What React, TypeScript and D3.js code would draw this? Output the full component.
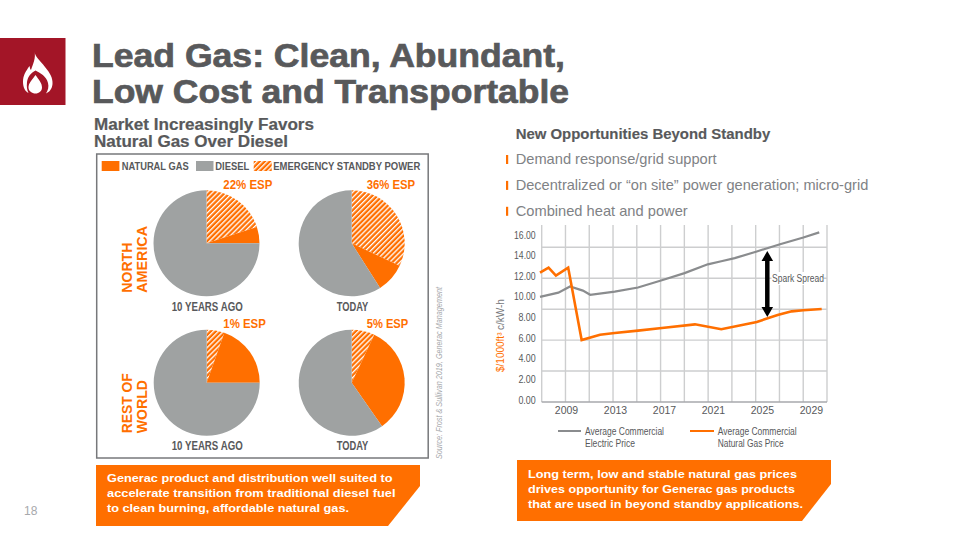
import React from "react";
import * as d3 from "d3";

const ORANGE = "#FF6F00", GREY = "#9FA2A2", TEXT = "#58595B", RED = "#A31527", LIGHT = "#808285";
const SANS = "'Liberation Sans', Arial, sans-serif";
const NARROW = "'Liberation Sans Narrow', 'Liberation Sans', sans-serif";

// pie data: [hatched ESP, natural gas, diesel]
const sliceKeys = ["esp", "gas", "diesel"];
const northAmericaPast = [20, 5, 75];
const northAmericaToday = [32, 9, 59];
const worldPast = [5.4, 19.6, 75];
const worldToday = [7, 33.3, 59.7];

// line chart data
const electricYears = [2007, 2008.5, 2009.45, 2010.5, 2011.1, 2013.1, 2015, 2016.95, 2018.8, 2020.7, 2021.8, 2022.9, 2024.7, 2026.6, 2028.5, 2029.8];
const electricValues = [10.2, 10.6, 11.2, 10.8, 10.4, 10.7, 11.1, 11.8, 12.5, 13.35, 13.65, 13.95, 14.6, 15.3, 15.95, 16.45];
const gasYears = [2007, 2007.7, 2008.3, 2009.3, 2010.4, 2011.9, 2013.1, 2015, 2016.95, 2019.65, 2021.8, 2024.7, 2026.4, 2027.55, 2028.5, 2030];
const gasValues = [12.54, 13.03, 12.25, 13.03, 6.01, 6.53, 6.69, 6.92, 7.18, 7.53, 7.05, 7.76, 8.44, 8.79, 8.89, 9.02];
const yTickLabels = [0, 2, 4, 6, 8, 10, 12, 14, 16];
const yGridValues = [0, 3, 6, 9, 12, 15];
const xTickYears = [2009, 2013, 2017, 2021, 2025, 2029];
const xGridCount = 12;

const titleLines = ["Lead Gas: Clean, Abundant,", "Low Cost and Transportable"];
const bullets = ["Demand response/grid support", "Decentralized or “on site” power generation; micro-grid", "Combined heat and power"];
const leftNote = ["Generac product and distribution well suited to", "accelerate transition from traditional diesel fuel", "to clean burning, affordable natural gas."];
const rightNote = ["Long term, low and stable natural gas prices", "drives opportunity for Generac gas products", "that are used in beyond standby applications."];

type TP = { x: number; y: number; s: number; w?: number | string; f?: string; fam?: string; len?: number; anchor?: string; rot?: number; style?: string; sw?: number; children: React.ReactNode };
function T({ x, y, s, w, f = TEXT, fam = SANS, len, anchor, rot, style, sw, children }: TP) {
  return (
    <text x={x} y={y} fontSize={s} fontWeight={w} fill={f} fontFamily={fam} textLength={len} lengthAdjust={len ? "spacingAndGlyphs" : undefined}
      textAnchor={anchor} fontStyle={style} stroke={sw ? f : undefined} strokeWidth={sw} transform={rot ? `rotate(${rot} ${x} ${y})` : undefined}>{children}</text>
  );
}

const pieGen = d3.pie<number>().sort(null).value((d) => d);
const arcGen = d3.arc<d3.PieArcDatum<number>>().innerRadius(0).outerRadius(53);
const fills: Record<string, string> = { esp: "url(#hatch)", gas: ORANGE, diesel: GREY };

function Pie({ cx, cy, data }: { cx: number; cy: number; data: number[] }) {
  return (
    <g transform={`translate(${cx},${cy})`}>
      {pieGen(data).map((a, i) => <path key={i} d={arcGen(a) || ""} fill={fills[sliceKeys[i]]} />)}
    </g>
  );
}

const xS = d3.scaleLinear().domain([2007, 2030]).range([540, 821.7]);
const yS = d3.scaleLinear().domain([0, 16]).range([402, 237]);
const gridX = d3.range(xGridCount + 1).map((i) => 541.7 + (i * (827 - 541.7)) / xGridCount);
const lineGen = d3.line<[number, number]>().x((d) => xS(d[0])).y((d) => yS(d[1]));
const electricPts = electricYears.map((y, i) => [y, electricValues[i]] as [number, number]);
const gasPts = gasYears.map((y, i) => [y, gasValues[i]] as [number, number]);

export default function App() {
  const noteW = [285.5, 288.5, 242];
  const noteRW = [269, 267, 275];
  const bulletW = [201, 352.6, 172];
  const arrowX = 767.3;
  return (
    <svg width={959} height={540} viewBox="0 0 959 540" style={{ position: "absolute", left: 0, top: 0, background: "#fff" }}>
      <defs>
        <pattern id="hatch" width={3.6} height={3.6} patternUnits="userSpaceOnUse" patternTransform="rotate(45)">
          <rect width={3.6} height={3.6} fill={ORANGE} />
          <rect width={1.3} height={3.6} fill="#fff" />
        </pattern>
      </defs>

      {/* header */}
      <rect x={0} y={38} width={65.5} height={67} fill={RED} />
      <path d="M34.5 51.5 C35 57 40 60 45 67 C50 73 53 78 52.5 84 C52 89 49.5 92 46 93.5 C48 90 49 87 48 83 C46.5 76 40 73 35.5 70.5 C31 73 28 76 27 82 C26.5 87 27 90 28.5 93 C25 91.5 23 87 23 82 C23 75 26 71 29.5 66 C30 68 30 69 31 70 C33 64 36 58 34.5 51.5 Z" fill="#fff" />
      <path d="M35.5 75 C39 80 42 83 42 87.5 C42 91 39 93.5 35.5 93.5 C32 93.5 28.5 91 28.5 87.5 C28.5 83 32 80 35.5 75 Z" fill="#fff" />
      {titleLines.map((t, i) => (
        <T key={i} x={92} y={67 + i * 36} s={33} w={700} sw={0.7} len={i === 0 ? 473 : 477}>{t}</T>
      ))}
      <T x={24} y={515} s={12} f="#A7A9AC">18</T>

      {/* left panel */}
      <T x={94} y={130} s={16} w={700} sw={0.2} len={220}>Market Increasingly Favors</T>
      <T x={94} y={147} s={16} w={700} sw={0.2} len={194}>Natural Gas Over Diesel</T>
      <rect x={96.7} y={154} width={331.5} height={304} fill="none" stroke="#77787B" strokeWidth={1.5} />
      <rect x={101.7} y={161} width={17.7} height={10} fill={ORANGE} />
      <T x={121.7} y={170} s={10} w={700} len={67}>NATURAL GAS</T>
      <rect x={196} y={161} width={17.5} height={10} fill={GREY} />
      <T x={215.3} y={170} s={10} w={700} len={34}>DIESEL</T>
      <rect x={253.7} y={161} width={18} height={10} fill="url(#hatch)" />
      <T x={273.3} y={170} s={10} w={700} len={147}>EMERGENCY STANDBY POWER</T>

      <Pie cx={206.5} cy={243.3} data={northAmericaPast} />
      <Pie cx={351.7} cy={243.3} data={northAmericaToday} />
      <Pie cx={206.7} cy={382.7} data={worldPast} />
      <Pie cx={351.7} cy={382.7} data={worldToday} />

      <T x={223.3} y={189} s={13} w={700} f={ORANGE} fam={NARROW} len={49}>22% ESP</T>
      <T x={366.7} y={189} s={13} w={700} f={ORANGE} fam={NARROW} len={48.5}>36% ESP</T>
      <T x={223.3} y={328} s={13} w={700} f={ORANGE} fam={NARROW} len={42.5}>1% ESP</T>
      <T x={366.7} y={328} s={13} w={700} f={ORANGE} fam={NARROW} len={41.5}>5% ESP</T>
      <T x={171.7} y={310.5} s={12} w={700} fam={NARROW} len={71}>10 YEARS AGO</T>
      <T x={336.7} y={310.5} s={12} w={700} fam={NARROW} len={31.5}>TODAY</T>
      <T x={171.7} y={450} s={12} w={700} fam={NARROW} len={71}>10 YEARS AGO</T>
      <T x={336.7} y={450} s={12} w={700} fam={NARROW} len={31.5}>TODAY</T>
      <T x={131.7} y={292.7} s={15} w={700} f={ORANGE} rot={-90} len={50}>NORTH</T>
      <T x={147.3} y={292.7} s={15} w={700} f={ORANGE} rot={-90} len={66.7}>AMERICA</T>
      <T x={131.7} y={433.3} s={15} w={700} f={ORANGE} rot={-90} len={60}>REST OF</T>
      <T x={147.3} y={433.3} s={15} w={700} f={ORANGE} rot={-90} len={53.3}>WORLD</T>
      <T x={442} y={459} s={9.5} f="#A7A9AC" fam={NARROW} style="italic" rot={-90} len={172}>Source: Frost &amp; Sullivan 2019, Generac Management</T>

      <path d="M96 465 H420 V486 L388 526 H96 Z" fill={ORANGE} />
      {leftNote.map((t, i) => <T key={i} x={107} y={482 + i * 15} s={11.5} w={700} f="#fff" len={noteW[i]}>{t}</T>)}

      {/* right panel */}
      <T x={515.7} y={139} s={14.5} w={700} sw={0.15} len={254.5}>New Opportunities Beyond Standby</T>
      {bullets.map((t, i) => (
        <g key={i}>
          <rect x={506} y={155 + i * 25.9} width={2.2} height={9} fill={ORANGE} />
          <T x={515.7} y={164 + i * 25.9} s={14.5} f={LIGHT} len={bulletW[i]}>{t}</T>
        </g>
      ))}

      {/* line chart */}
      {gridX.map((x, i) => <line key={i} x1={x} x2={x} y1={225} y2={402} stroke="#CDCECF" strokeWidth={1.4} />)}
      {yGridValues.map((v) => (
        <line key={v} x1={541.7} x2={827} y1={yS(v)} y2={yS(v)} stroke={v === 0 ? "#A7A9AC" : "#CDCECF"} strokeWidth={1.4} />
      ))}
      {yTickLabels.map((v) => (
        <T key={v} x={535.7} y={yS(v) + 1.5} s={10.5} anchor="end" fam={NARROW} len={v >= 10 ? 21.7 : 17.3}>{v.toFixed(2)}</T>
      ))}
      {xTickYears.map((y) => (
        <T key={y} x={xS(y) + 2} y={414.3} s={10.5} anchor="middle" fam={NARROW}>{y}</T>
      ))}
      <path d={lineGen(electricPts) || ""} fill="none" stroke="#8A8C8E" strokeWidth={2.2} />
      <path d={lineGen(gasPts) || ""} fill="none" stroke={ORANGE} strokeWidth={2.6} />
      <T x={504} y={372} s={10} f={ORANGE} fam={NARROW} rot={-90}>$/1000ft³</T>
      <T x={504} y={330} s={10} f="#77787B" fam={NARROW} rot={-90}>c/kW-h</T>

      <line x1={arrowX} x2={arrowX} y1={259} y2={309} stroke="#000" strokeWidth={4.5} />
      <path d={`M${arrowX} 251 l5.8 10 h-11.6 Z M${arrowX} 317 l5.8 -10 h-11.6 Z`} fill="#000" />
      <rect x={771.5} y={272} width={52} height={13} fill="#fff" />
      <T x={772} y={282} s={10} fam={NARROW} len={52}>Spark Spread</T>

      <line x1={558} x2={581} y1={431} y2={431} stroke="#8A8C8E" strokeWidth={2} />
      <T x={585} y={435} s={10} fam={NARROW} len={79}>Average Commercial</T>
      <T x={585} y={447} s={10} fam={NARROW} len={50}>Electric Price</T>
      <line x1={690} x2={714} y1={431} y2={431} stroke={ORANGE} strokeWidth={2} />
      <T x={717.7} y={435} s={10} fam={NARROW} len={79}>Average Commercial</T>
      <T x={717.7} y={447} s={10} fam={NARROW} len={66}>Natural Gas Price</T>

      <path d="M517 460 H831 V484 L802 521 H517 Z" fill={ORANGE} />
      {rightNote.map((t, i) => <T key={i} x={528} y={478 + i * 15} s={11.5} w={700} f="#fff" len={noteRW[i]}>{t}</T>)}
    </svg>
  );
}
